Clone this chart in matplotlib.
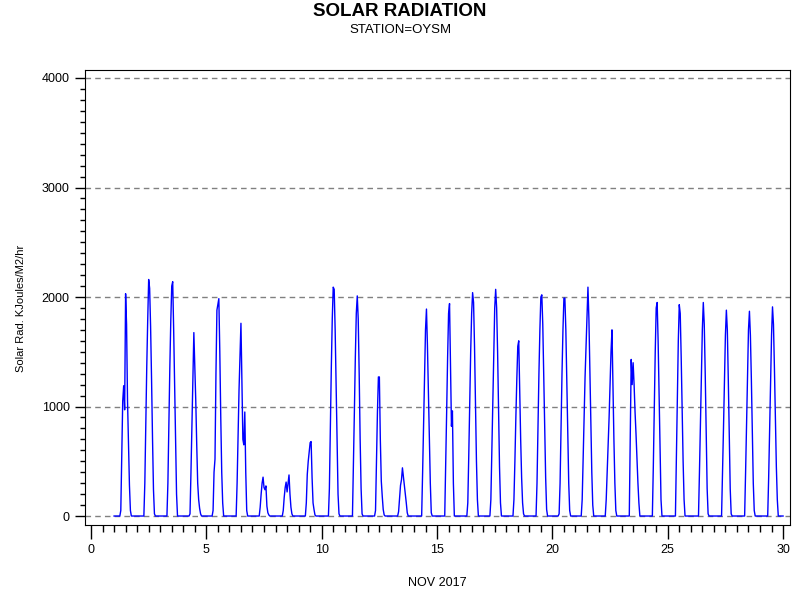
import numpy as np
import matplotlib
matplotlib.use("Agg")
import matplotlib.pyplot as plt
from matplotlib.ticker import MultipleLocator

plt.rcParams['font.family'] = ['Liberation Sans', 'DejaVu Sans']

# hourly solar radiation, Nov 2017, station OYSM
# only the daylight hours are listed, every other hour is 0
days = list(range(1, 30))
sun_hours = list(range(7, 20))   # 07:00 .. 19:00

day_values = [
    [50, 550, 1050, 1190, 970, 2030, 1750, 1050, 650, 280, 50, 0, 0],        # 1
    [0, 300, 860, 1360, 1790, 2160, 2080, 1730, 1250, 710, 240, 20, 0],      # 2
    [0, 300, 850, 1350, 1780, 2100, 2140, 1700, 1200, 650, 200, 0, 0],       # 3
    [20, 400, 850, 1250, 1675, 1350, 1050, 650, 300, 150, 70, 20, 0],        # 4
    [50, 400, 520, 1300, 1880, 1930, 1985, 1500, 900, 400, 120, 0, 0],       # 5
    [0, 300, 750, 1150, 1450, 1760, 1200, 700, 650, 950, 400, 50, 0],        # 6
    [0, 80, 200, 300, 355, 260, 240, 275, 90, 30, 10, 0, 0],                 # 7
    [0, 50, 170, 260, 310, 220, 300, 375, 200, 80, 20, 0, 0],                # 8
    [0, 120, 380, 500, 590, 670, 680, 350, 120, 60, 10, 0, 0],               # 9
    [0, 250, 800, 1350, 1800, 2090, 2070, 1700, 1200, 650, 200, 20, 0],      # 10
    [0, 0, 450, 950, 1450, 1850, 2010, 1800, 1300, 700, 250, 20, 0],         # 11
    [0, 50, 500, 950, 1270, 1270, 700, 320, 180, 60, 10, 0, 0],              # 12
    [0, 40, 160, 280, 330, 440, 360, 280, 200, 120, 30, 0, 0],               # 13
    [0, 0, 400, 850, 1300, 1700, 1890, 1560, 1150, 700, 300, 30, 0],         # 14
    [0, 0, 450, 950, 1450, 1850, 1940, 1400, 820, 960, 300, 0, 0],           # 15
    [0, 120, 550, 1050, 1500, 1850, 2040, 1950, 1550, 1000, 500, 150, 0],    # 16
    [0, 150, 600, 1100, 1550, 1900, 2070, 1900, 1500, 950, 450, 120, 0],     # 17
    [0, 150, 500, 900, 1250, 1550, 1600, 1150, 700, 350, 120, 20, 0],        # 18
    [0, 300, 800, 1300, 1700, 2000, 2020, 1750, 1300, 800, 350, 60, 0],      # 19
    [20, 300, 800, 1300, 1700, 1990, 1990, 1700, 1250, 750, 300, 50, 0],     # 20
    [150, 520, 900, 1270, 1550, 1800, 2090, 1800, 1350, 850, 400, 100, 0],   # 21
    [0, 150, 400, 650, 900, 1200, 1500, 1700, 1200, 700, 300, 50, 0],        # 22
    [0, 0, 700, 1430, 1200, 1400, 1200, 950, 750, 520, 300, 120, 0],         # 23
    [0, 0, 450, 1000, 1500, 1900, 1950, 1600, 1100, 550, 150, 0, 0],         # 24
    [0, 0, 550, 1100, 1600, 1930, 1850, 1450, 950, 500, 150, 0, 0],          # 25
    [0, 0, 400, 850, 1300, 1700, 1950, 1750, 1300, 750, 250, 20, 0],         # 26
    [0, 0, 380, 800, 1250, 1650, 1880, 1700, 1250, 720, 250, 20, 0],         # 27
    [0, 0, 400, 850, 1300, 1700, 1870, 1650, 1250, 750, 300, 50, 0],         # 28
    [0, 0, 350, 800, 1250, 1650, 1910, 1750, 1350, 900, 450, 150, 0],        # 29
]

# full hourly series: x is day of month + hour/24
t = []
rad = []
for d, vals in zip(days, day_values):
    hourly = np.zeros(24)
    hourly[sun_hours[0]:sun_hours[-1] + 1] = vals
    for h in range(24):
        t.append(d + h / 24.0)
        rad.append(hourly[h])
t.append(days[-1] + 1)
rad.append(0)

fig = plt.figure(figsize=(8, 6), dpi=100)
ax = fig.add_axes([85/800, 1 - 525/600, 705/800, 455/600])

ax.plot(t, rad, color='#0000ff', linewidth=1)

ax.set_xlim(-0.26, 30.3)
ax.set_ylim(-82, 4073)
ax.xaxis.set_major_locator(MultipleLocator(5))
ax.xaxis.set_minor_locator(MultipleLocator(0.5))
ax.yaxis.set_major_locator(MultipleLocator(1000))
ax.yaxis.set_minor_locator(MultipleLocator(100))
ax.tick_params(axis='x', which='major', length=10, width=1, labelsize=9, pad=4)
ax.tick_params(axis='x', which='minor', length=5, width=1)
ax.tick_params(axis='y', which='major', length=7, width=1, labelsize=9, pad=4)
ax.tick_params(axis='y', which='minor', length=3.5, width=1)

ax.grid(axis='y', which='major', color='#808080', linestyle=(0, (4, 3)), linewidth=1)
ax.set_axisbelow(True)

ax.set_xlabel('NOV 2017', fontsize=9)
ax.xaxis.set_label_coords(0.5, -0.115)
ax.set_ylabel('Solar Rad. KJoules/M2/hr', fontsize=8)
ax.yaxis.set_label_coords(-0.083, 0.475)

fig.text(0.5, 1 - 11/600, 'SOLAR RADIATION', ha='center', va='center',
         fontsize=13.5, fontweight='bold')
fig.text(0.5, 1 - 30/600, 'STATION=OYSM', ha='center', va='center', fontsize=9.5)

fig.savefig('out.png', dpi=100)
